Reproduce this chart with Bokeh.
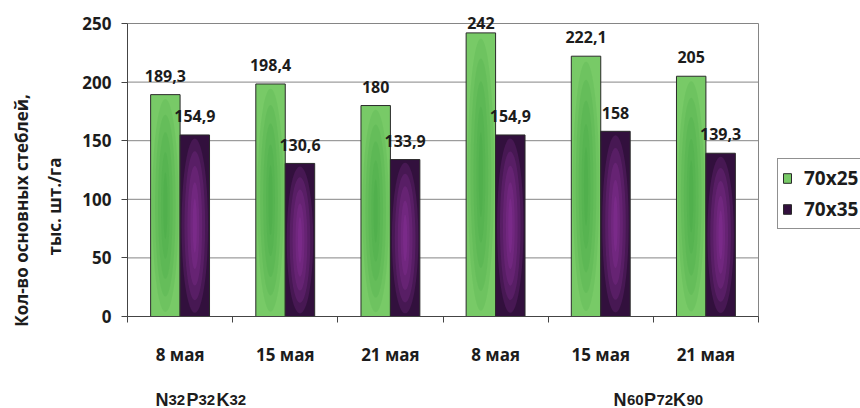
import re
import math
from bokeh.plotting import figure
from bokeh.models import Range1d, FixedTicker, Legend, LegendItem
from bokeh.core.properties import value
from bokeh.embed import file_html
from bokeh.resources import INLINE

# ---- data ----
dates = ["8 мая", "15 мая", "21 мая", "8 мая", "15 мая", "21 мая"]
series_names = ["70x25", "70x35"]
s25 = [189.3, 198.4, 180, 242, 222.1, 205]
s35 = [154.9, 130.6, 133.9, 154.9, 158, 139.3]
yticks = [0, 50, 100, 150, 200, 250]
groups = ["N32P32K32", "N60P72K90"]
ylabel_lines = ["Кол-во основных стеблей,", "тыс. шт./га"]

FONT = "Open Sans"
TXT = "#1c1c1c"
AX = "#444444"
GRID = "#858585"

# ---- layout (pixels on the canvas) ----
W, H = 860, 408
PL, PR, PT, PB = 127, 758, 23, 316   # plot-area edges

n = len(dates)
ymax = max(yticks)
kx = (PR - PL) / n          # px per x unit
ky = (PB - PT) / ymax       # px per y unit

def dx(px):   # canvas x pixel -> data x
    return (px - PL) / kx

def dy(py):   # canvas y pixel (from top) -> data y
    return (PB - py) / ky

p = figure(width=W, height=H, x_range=Range1d(dx(0), dx(W)),
           y_range=Range1d(dy(H), dy(0)),
           output_backend="svg", toolbar_location=None,
           min_border=0, min_border_left=0, min_border_right=0,
           min_border_top=0, min_border_bottom=0)
p.background_fill_color = "white"
p.border_fill_color = "white"
p.outline_line_color = None
p.xgrid.visible = False
p.ygrid.visible = False

bw = 0.28
xc = [i + 0.5 for i in range(n)]
x25 = [x - bw / 2 for x in xc]
x35 = [x + bw / 2 for x in xc]

# horizontal grid lines and right border of the plot area
p.segment(x0=[0] * len(yticks), x1=[n] * len(yticks), y0=yticks, y1=yticks,
          line_color=GRID, line_width=1)
p.segment(x0=[n], y0=[0], x1=[n], y1=[ymax], line_color=GRID, line_width=1)

# axes fixed at the plot-area edges
xa = p.xaxis[0]
xa.fixed_location = 0
xa.bounds = (0, n)
xa.ticker = FixedTicker(ticks=xc, minor_ticks=list(range(n + 1)))
xa.major_label_overrides = {x: d for x, d in zip(xc, dates)}
xa.major_tick_out = 0
xa.major_tick_in = 0
xa.minor_tick_out = 6
xa.minor_tick_in = 0
xa.minor_tick_line_color = AX
xa.axis_line_color = AX
xa.major_label_standoff = 20
xa.major_label_text_font = FONT
xa.major_label_text_font_style = "bold"
xa.major_label_text_font_size = "17px"
xa.major_label_text_color = TXT

ya = p.yaxis[0]
ya.fixed_location = 0
ya.bounds = (0, ymax)
ya.ticker = FixedTicker(ticks=yticks)
ya.minor_tick_line_color = None
ya.major_tick_out = 6
ya.major_tick_in = 0
ya.major_tick_line_color = AX
ya.axis_line_color = AX
ya.major_label_standoff = 10
ya.major_label_text_font = FONT
ya.major_label_text_font_style = "bold"
ya.major_label_text_font_size = "17px"
ya.major_label_text_color = TXT

# bars
r25 = p.vbar(x=x25, top=s25, width=bw, bottom=0, fill_color="#78ca67",
             line_color="#2a2a2a", line_width=1)
r35 = p.vbar(x=x35, top=s35, width=bw, bottom=0, fill_color="#32103d",
             line_color="#2a2a2a", line_width=1)

# radial glow imitation
layers = [(0.9, 0.96), (0.7, 0.82), (0.5, 0.66), (0.3, 0.48), (0.14, 0.3)]
for f, g in layers:
    p.ellipse(x=x25, y=[v / 2 for v in s25], width=bw * f,
              height=[v * g for v in s25], fill_color="#2c9a33",
              fill_alpha=0.13, line_color=None)
    p.ellipse(x=x35, y=[v / 2 for v in s35], width=bw * f,
              height=[v * g for v in s35], fill_color="#a83cb8",
              fill_alpha=0.18, line_color=None)

# value labels
def fmt(v):
    return f"{v:g}".replace(".", ",")

lv = s25 + s35
p.text(x=x25 + x35, y=[min(v + 16, ymax + 0.8) for v in lv],
       text=[fmt(v) for v in lv], text_align="center", text_baseline="middle",
       text_font=value(FONT), text_font_style="bold", text_font_size="16px",
       text_color=TXT)

# y-axis title (two lines)
p.text(x=[dx(21), dx(54)], y=[dy(210), dy(206)], text=ylabel_lines,
       angle=math.pi / 2, text_align="center", text_baseline="middle",
       text_font=value(FONT), text_font_style="bold", text_font_size="17px",
       text_color=TXT)

# fertiliser group labels with subscripts
group_px = [155, 613]
group_offsets = [[0, 13, 31, 43, 61, 74], [0, 13.5, 30.5, 43, 59.5, 73]]
for gtxt, gpx, offs in zip(groups, group_px, group_offsets):
    parts = []
    for letter, num in re.findall(r"([A-Z])(\d+)", gtxt):
        parts += [(letter, "18px"), (num, "15px")]
    for (t, fs), off in zip(parts, offs):
        p.text(x=[dx(gpx)], y=[dy(399)], text=[t], x_offset=off,
               text_align="left", text_baseline="alphabetic",
               text_font=value("Liberation Sans"), text_font_style="bold",
               text_font_size=fs, text_color=TXT)

# legend
legend = Legend(items=[LegendItem(label=series_names[0], renderers=[r25]),
                       LegendItem(label=series_names[1], renderers=[r35])],
                location=(777, H - 229))
legend.border_line_color = "#222222"
legend.border_line_width = 1
legend.background_fill_color = "white"
legend.label_text_font = FONT
legend.label_text_font_style = "bold"
legend.label_text_font_size = "19px"
legend.label_text_color = TXT
legend.glyph_width = 10
legend.glyph_height = 12
legend.label_height = 30
legend.label_standoff = 12
legend.spacing = 1
legend.padding = 4
legend.margin = 0
p.add_layout(legend)

open("out.html", "w").write(file_html(p, INLINE))
